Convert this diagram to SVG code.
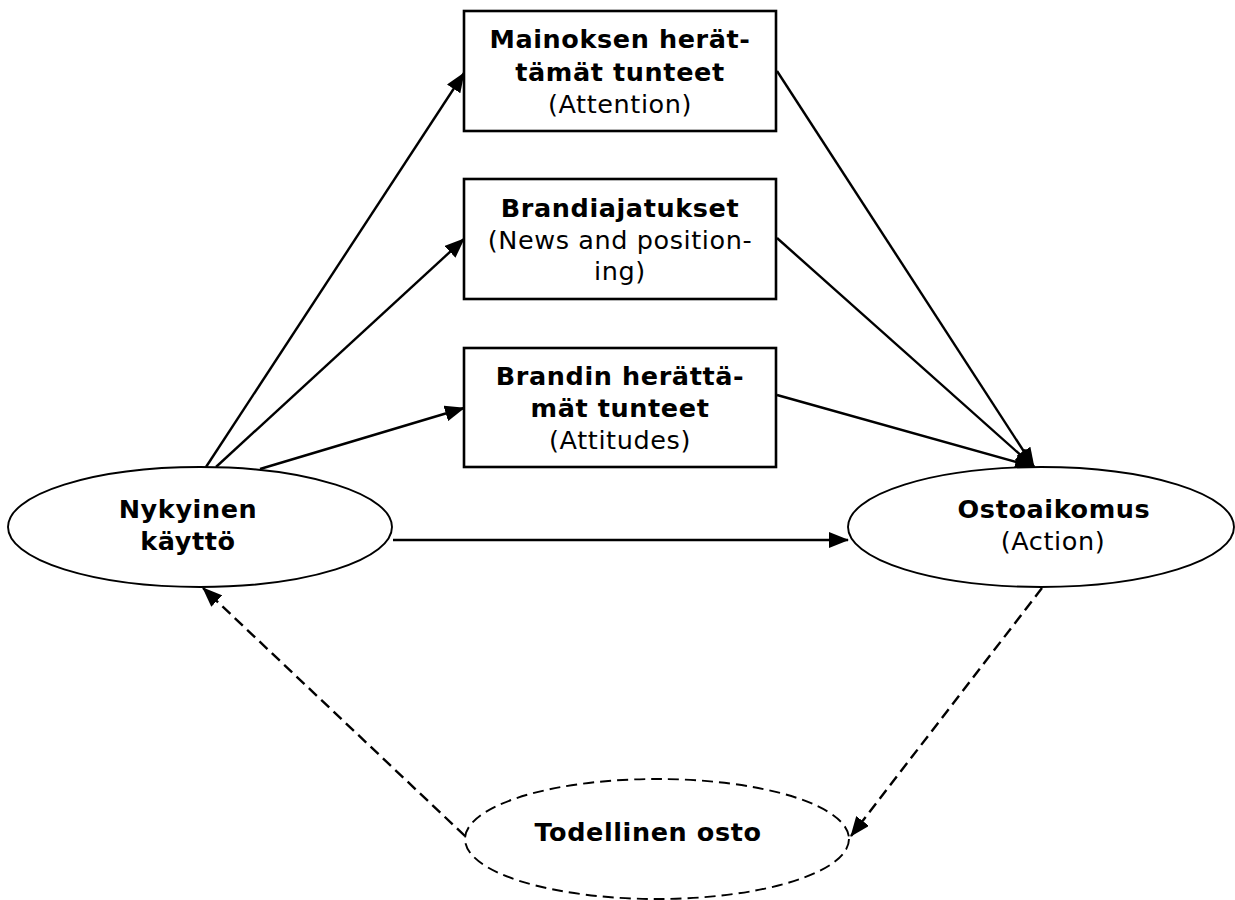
<svg xmlns="http://www.w3.org/2000/svg" width="1235" height="900" viewBox="0 0 1235 900">
<style>
.box{fill:#fff;stroke:#000;stroke-width:2.6}
.ell{fill:#fff;stroke:#000;stroke-width:1.9}
.dash{stroke-dasharray:11 6}
.t{font-family:"DejaVu Sans",Verdana,sans-serif;font-size:25.5px;letter-spacing:0.6px;text-anchor:middle;fill:#000}
.b{font-weight:bold}
.c{fill:none;stroke:#000;stroke-width:2.4}
</style>
<defs>
<marker id="ah" markerUnits="userSpaceOnUse" markerWidth="20" markerHeight="16" refX="19" refY="8" orient="auto">
<path d="M0,0 L20,8 L0,16 Z" fill="#000"/>
</marker>
</defs>
<rect width="1235" height="900" fill="#fff"/>
<g id="connectors">
<line class="c" x1="206" y1="467" x2="464" y2="73" marker-end="url(#ah)"/>
<line class="c" x1="216" y1="467" x2="464" y2="239" stroke-width="1.7" marker-end="url(#ah)"/>
<line class="c" x1="260" y1="469" x2="464" y2="408" marker-end="url(#ah)"/>
<line class="c" x1="393" y1="540" x2="848" y2="540" stroke-width="3.4" marker-end="url(#ah)"/>
<line class="c" x1="777" y1="71" x2="1034" y2="467" marker-end="url(#ah)"/>
<line class="c" x1="777" y1="238" x2="1034" y2="467" stroke-width="1.6" marker-end="url(#ah)"/>
<line class="c" x1="777" y1="395" x2="1034" y2="467" marker-end="url(#ah)"/>
<line class="c dash" x1="1042" y1="588" x2="851" y2="836" stroke-width="1.8" marker-end="url(#ah)"/>
<line class="c dash" x1="465" y1="836" x2="203" y2="588" stroke-width="1.8" marker-end="url(#ah)"/>
</g>
<g id="n1">
<rect class="box" x="464" y="11" width="312" height="120"/>
<text class="t b" x="620" y="48">Mainoksen herät-</text>
<text class="t b" x="620" y="81">tämät tunteet</text>
<text class="t" x="620" y="113">(Attention)</text>
</g>
<g id="n2">
<rect class="box" x="464" y="179" width="312" height="120"/>
<text class="t b" x="620" y="217">Brandiajatukset</text>
<text class="t" x="620" y="249">(News and position-</text>
<text class="t" x="620" y="280">ing)</text>
</g>
<g id="n3">
<rect class="box" x="464" y="348" width="312" height="119"/>
<text class="t b" x="620" y="385">Brandin herättä-</text>
<text class="t b" x="620" y="417">mät tunteet</text>
<text class="t" x="620" y="449">(Attitudes)</text>
</g>
<g id="n4">
<ellipse class="ell" cx="200" cy="527" rx="192" ry="60"/>
<text class="t b" x="188" y="518">Nykyinen</text>
<text class="t b" x="188" y="550">käyttö</text>
</g>
<g id="n5">
<ellipse class="ell" cx="1041" cy="527" rx="193" ry="60"/>
<text class="t b" x="1054" y="518">Ostoaikomus</text>
<text class="t" x="1053" y="550">(Action)</text>
</g>
<g id="n6">
<ellipse class="ell dash" cx="657" cy="839" rx="192" ry="60"/>
<text class="t b" x="648" y="841">Todellinen osto</text>
</g>
</svg>
